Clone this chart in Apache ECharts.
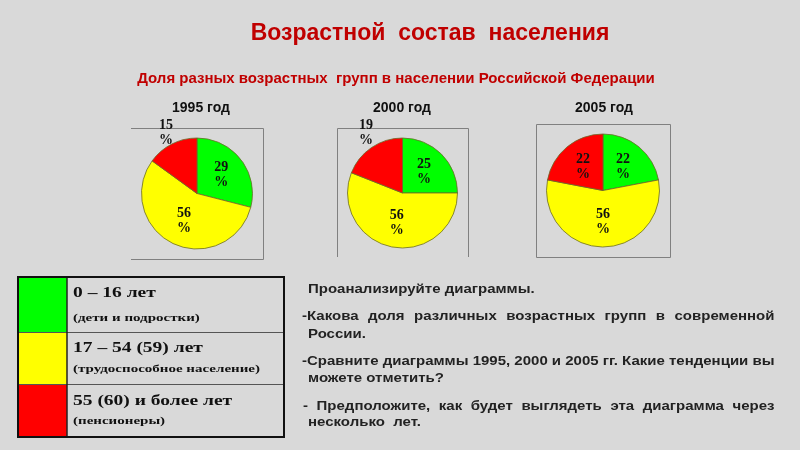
<!DOCTYPE html>
<html><head><meta charset="utf-8">
<script src="https://cdn.jsdelivr.net/npm/echarts@6/dist/echarts.min.js"></script>
<style>html,body{margin:0;padding:0;background:#d9d9d9}#c{width:800px;height:450px}</style>
</head><body><div id="c"></div>
<script>
// ---- data ----
const years = ['1995 год', '2000 год', '2005 год'];
const groupNames = ['0 – 16 лет', '17 – 54 (59) лет', '55 (60) и более лет'];
const groupNotes = ['(дети и подростки)', '(трудоспособное население)', '(пенсионеры)'];
const children = [29, 25, 22];
const working = [56, 56, 56];
const pensioners = [15, 19, 22];
const colors = ['#00ff00', '#ffff00', '#ff0000'];

const mainTitle = 'Возрастной  состав  населения';
const subTitle = 'Доля разных возрастных  групп в населении Российской Федерации';
const questions = [
  {t: 'Проанализируйте диаграммы.', j: false},
  {t: '-Какова доля различных возрастных групп в современной', j: true},
  {t: 'России.', j: false},
  {t: '-Сравните диаграммы 1995, 2000 и 2005 гг. Какие тенденции вы', j: true},
  {t: 'можете отметить?', j: false},
  {t: '- Предположите, как будет выглядеть эта диаграмма  через', j: true},
  {t: 'несколько  лет.', j: false}
];

// ---- layout ----
const pieCenters = [[197, 193.5], [402.5, 193], [603, 190.5]];
const pieRadius = [55.5, 55, 56.5];
const yearX = [196, 397, 599];
const outsideLen = [13, 18, 13];
const outsideShift = [-7, -11.5, -7];

const chart = echarts.init(document.getElementById('c'));

const labelFont = {fontFamily: '"Liberation Serif", "Times New Roman", serif', fontWeight: 'bold', fontSize: 14, lineHeight: 15, color: '#111'};

const series = years.map((y, i) => {
  const vals = [children[i], working[i], pensioners[i]];
  return {
    type: 'pie',
    name: y,
    center: pieCenters[i],
    radius: pieRadius[i],
    startAngle: 90,
    clockwise: true,
    silent: true,
    animation: false,
    avoidLabelOverlap: false,
    itemStyle: {borderColor: '#6b6b2a', borderWidth: 0.8},
    label: Object.assign({show: true, position: 'inside', formatter: '{c}\n%'}, labelFont),
    labelLine: {show: false},
    data: vals.map((v, k) => {
      const d = {value: v, name: groupNames[k], itemStyle: {color: colors[k]}};
      if (v < 20) {
        d.label = Object.assign({show: true, position: 'outside', formatter: '{c}\n%', distanceToLabelLine: outsideShift[i]}, labelFont);
        d.labelLine = {show: false, length: outsideLen[i], length2: 0};
      }
      return d;
    })
  };
});

// frames (decorations)
const lineStyle = {stroke: '#808080', lineWidth: 1};
const graphics = [
  {type: 'polyline', shape: {points: [[131, 128.5], [263.5, 128.5], [263.5, 259.5], [131, 259.5]]}, style: Object.assign({fill: null}, lineStyle), silent: true},
  {type: 'polyline', shape: {points: [[337.5, 257], [337.5, 128.5], [468.5, 128.5], [468.5, 257]]}, style: Object.assign({fill: null}, lineStyle), silent: true},
  {type: 'rect', shape: {x: 536.5, y: 124.5, width: 134, height: 133}, style: Object.assign({fill: null}, lineStyle), silent: true}
];

// legend table
const tx = 18, ty = 277, tw = 266, cw = 49;
const rowB = [277, 332.5, 384.5, 437];
const serifMain = 'bold 19.5px "Liberation Serif", "Times New Roman", serif';
const serifNote = 'bold 15px "Liberation Serif", "Times New Roman", serif';
for (let k = 0; k < 3; k++) {
  graphics.push({type: 'rect', shape: {x: tx, y: rowB[k], width: cw, height: rowB[k + 1] - rowB[k]}, style: {fill: colors[k]}, silent: true});
  graphics.push({type: 'text', x: 73, y: [293, 348.5, 401][k], scaleY: 0.75, style: {text: groupNames[k], fill: '#111', font: serifMain, verticalAlign: 'middle'}, silent: true});
  graphics.push({type: 'text', x: 73, y: [318, 369, 421][k], scaleY: 0.75, style: {text: groupNotes[k], fill: '#111', font: serifNote, verticalAlign: 'middle'}, silent: true});
}
for (let k = 1; k < 3; k++) {
  graphics.push({type: 'line', shape: {x1: tx, y1: rowB[k], x2: tx + tw, y2: rowB[k]}, style: {stroke: '#555', lineWidth: 1.2}, silent: true});
}
graphics.push({type: 'line', shape: {x1: tx + cw, y1: ty, x2: tx + cw, y2: 437}, style: {stroke: '#222', lineWidth: 1.5}, silent: true});
graphics.push({type: 'rect', shape: {x: tx, y: ty, width: tw, height: 437 - ty}, style: {fill: null, stroke: '#111', lineWidth: 2}, silent: true});

// questions paragraph
const qFont = 'bold 15px "Liberation Sans", Arial, sans-serif';
const ctx = document.createElement('canvas').getContext('2d');
ctx.font = qFont;
const qY = [290, 317, 335, 362, 379, 407, 423];
const qLeft = [308, 302, 308, 302, 308, 303, 308];
const qRight = 774.5;
const qScaleY = 0.82;
questions.forEach((q, i) => {
  if (!q.j) {
    graphics.push({type: 'text', x: qLeft[i], y: qY[i], scaleY: qScaleY, style: {text: q.t, fill: '#222', font: qFont, verticalAlign: 'middle'}, silent: true});
  } else {
    const words = q.t.split(/\s+/);
    const widths = words.map(w => ctx.measureText(w).width);
    const total = widths.reduce((a, b) => a + b, 0);
    const gap = (qRight - qLeft[i] - total) / (words.length - 1);
    let x = qLeft[i];
    words.forEach((w, wi) => {
      graphics.push({type: 'text', x: x, y: qY[i], scaleY: qScaleY, style: {text: w, fill: '#222', font: qFont, verticalAlign: 'middle'}, silent: true});
      x += widths[wi] + gap;
    });
  }
});

const sans = '"Liberation Sans", Arial, sans-serif';
const titles = [
  {text: mainTitle, left: 425, top: 17.5, textAlign: 'center', textStyle: {color: '#c00000', fontSize: 23, fontWeight: 'bold', fontFamily: sans}},
  {text: subTitle, left: 391, top: 66.5, textAlign: 'center', textStyle: {color: '#c00000', fontSize: 15, fontWeight: 'bold', fontFamily: sans}}
];
years.forEach((y, i) => titles.push({text: y, left: yearX[i], top: 96, textAlign: 'center', textStyle: {color: '#111', fontSize: 14, fontWeight: 'bold', fontFamily: sans}}));

chart.setOption({
  backgroundColor: '#d9d9d9',
  animation: false,
  title: titles,
  series: series,
  graphic: graphics
});
</script></body></html>
